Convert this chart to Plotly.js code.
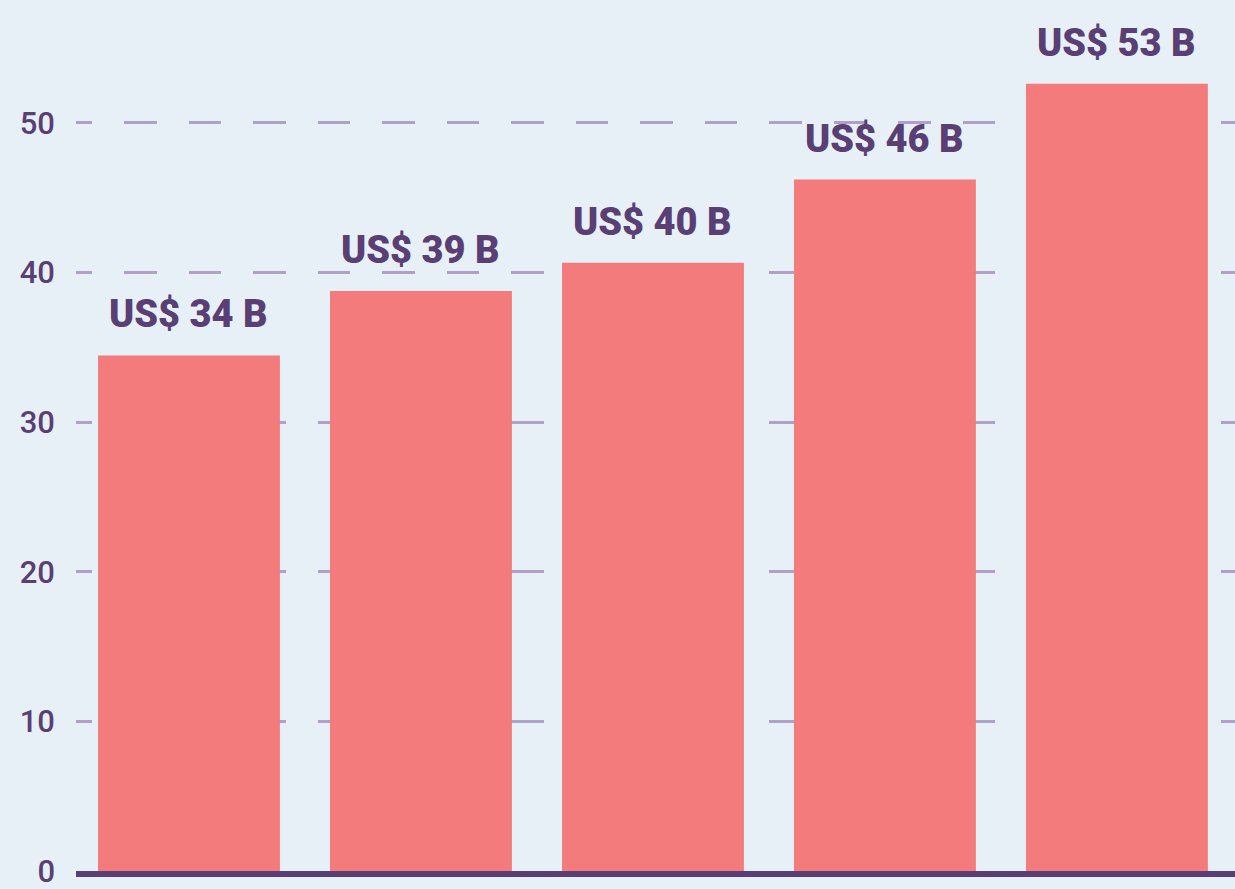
<!DOCTYPE html>
<html>
<head>
<meta charset="utf-8">
<script src="https://cdn.plot.ly/plotly-3.0.1.min.js"></script>
<style>
  html, body { margin: 0; padding: 0; background: #E8F0F7; }
  #chart { width: 1235px; height: 889px; }
</style>
</head>
<body>
<div id="chart"></div>
<script>
// Data
var categories = ["A", "B", "C", "D", "E"];
var values = [34.45, 38.75, 40.65, 46.2, 52.6];
var labels = ["US$ 34 B", "US$ 39 B", "US$ 40 B", "US$ 46 B", "US$ 53 B"];
var yTicks = [0, 10, 20, 30, 40, 50];

var purple = "#5A3F75";
var gridColor = "#B19FCB";

// custom dash: half dash first, then 32/32 pattern
var dashParts = ["16px", "32.25px"];
for (var k = 0; k < 20; k++) { dashParts.push("32.25px", "32.25px"); }
var gridDash = dashParts.join(",");

var trace = {
  type: "bar",
  x: categories.map(function (c, i) { return i; }),
  y: values,
  marker: { color: "#F37B7B" },
  hoverinfo: "none"
};

var annotations = values.map(function (v, i) {
  return {
    x: i, y: v, xref: "x", yref: "y",
    text: labels[i],
    showarrow: false,
    yanchor: "bottom",
    yshift: 17,
    font: { family: "Roboto, sans-serif", size: 38, weight: 900, color: purple }
  };
});

var layout = {
  width: 1235, height: 889,
  paper_bgcolor: "#E8F0F7",
  plot_bgcolor: "#E8F0F7",
  margin: { l: 76, r: 0, t: 0, b: 18 },
  bargap: 0.216,
  showlegend: false,
  xaxis: {
    range: [-0.487, 4.509],
    showticklabels: false,
    ticks: "",
    showgrid: false,
    zeroline: false,
    showline: true,
    linecolor: purple,
    linewidth: 6,
    fixedrange: true
  },
  yaxis: {
    range: [0, 58.2],
    tickvals: yTicks,
    ticktext: yTicks.map(String),
    ticks: "",
    ticklabelstandoff: 20,
    ticklabeloverflow: "allow",
    tickfont: { family: "Roboto, sans-serif", size: 31, weight: 500, color: purple },
    showgrid: true,
    gridcolor: gridColor,
    gridwidth: 3,
    griddash: gridDash,
    zeroline: false,
    showline: false,
    fixedrange: true
  },
  annotations: annotations
};

Plotly.newPlot("chart", [trace], layout, { displayModeBar: false, staticPlot: true });
</script>
</body>
</html>
